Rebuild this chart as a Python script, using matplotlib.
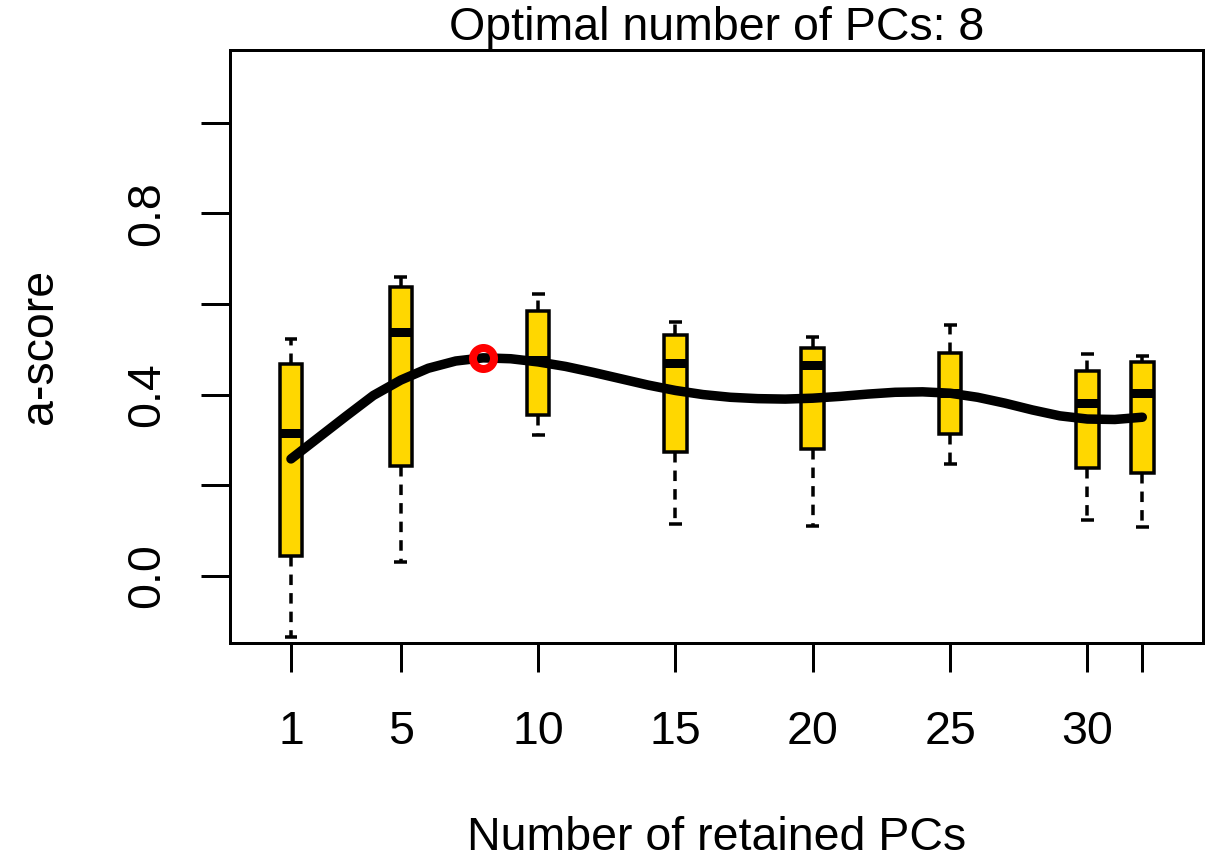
import matplotlib
matplotlib.use("Agg")
import matplotlib.pyplot as plt

plt.rcParams['font.family'] = ['Liberation Sans', 'DejaVu Sans']

# Number of retained PCs tested
n_pcs = [1, 5, 10, 15, 20, 25, 30, 32]

# a-score summaries for each tested number of PCs
whisker_low = [-0.134, 0.030, 0.311, 0.114, 0.110, 0.246, 0.124, 0.107]
q1 = [0.043, 0.243, 0.354, 0.274, 0.280, 0.313, 0.238, 0.228]
median = [0.315, 0.538, 0.476, 0.469, 0.465, 0.403, 0.382, 0.404]
q3 = [0.467, 0.638, 0.585, 0.532, 0.502, 0.491, 0.451, 0.471]
whisker_high = [0.522, 0.660, 0.621, 0.560, 0.527, 0.553, 0.490, 0.484]

# Smoothed mean a-score curve, evaluated at 1..32 PCs
curve_x = list(range(1, 33))
curve_y = [0.258, 0.305, 0.352, 0.398, 0.432, 0.458, 0.474, 0.481,
           0.479, 0.472, 0.462, 0.449, 0.435, 0.421, 0.409, 0.400,
           0.394, 0.391, 0.390, 0.392, 0.396, 0.401, 0.405, 0.406,
           0.403, 0.394, 0.381, 0.366, 0.353, 0.346, 0.345, 0.350]

best_n = 8
best_score = 0.481

x_ticks = [1, 5, 10, 15, 20, 25, 30, 32]
x_tick_labels = ["1", "5", "10", "15", "20", "25", "30", ""]
y_ticks = [0.0, 0.2, 0.4, 0.6, 0.8, 1.0]
y_tick_labels = ["0.0", "", "0.4", "", "0.8", ""]

W, H = 1219, 858
left, right, top, bottom = 230, 1203, 50, 643
fig = plt.figure(figsize=(W / 100, H / 100), dpi=100)
ax = fig.add_axes([left / W, 1 - bottom / H, (right - left) / W, (bottom - top) / H])

px = 0.72  # one pixel in points
fs = 33.5

stats = []
for i in range(len(n_pcs)):
    stats.append(dict(whislo=whisker_low[i], q1=q1[i], med=median[i],
                      q3=q3[i], whishi=whisker_high[i], fliers=[]))

ax.bxp(stats, positions=n_pcs, widths=0.82, capwidths=0.47,
       patch_artist=True, showfliers=False, manage_ticks=False,
       boxprops=dict(facecolor="#FFD700", edgecolor="black", linewidth=3.5 * px),
       medianprops=dict(color="black", linewidth=9 * px, solid_capstyle="butt"),
       whiskerprops=dict(color="black", linewidth=3.5 * px,
                         linestyle=(0, (3.0, 2.3))),
       capprops=dict(color="black", linewidth=3.5 * px, solid_capstyle="butt"))

ax.plot(curve_x, curve_y, color="black", linewidth=9.5 * px,
        solid_capstyle="round", solid_joinstyle="round", zorder=5)
ax.plot([best_n], [best_score], marker="o", markersize=21 * px,
        markerfacecolor="none", markeredgecolor="#FF0000",
        markeredgewidth=8 * px, linestyle="none", zorder=6)

ax.set_xlim(-1.22, 34.21)
ax.set_ylim(-0.148, 1.160)

ax.set_xticks(x_ticks)
ax.set_xticklabels(x_tick_labels)
ax.set_yticks(y_ticks)
ax.set_yticklabels(y_tick_labels, rotation=90, va="center")

for s in ax.spines.values():
    s.set_linewidth(3 * px)

ax.tick_params(axis="both", direction="out", length=29 * px, width=3 * px,
               labelsize=fs)
ax.tick_params(axis="x", pad=27)
ax.tick_params(axis="y", pad=23)

fig.text(0.5 * (left + right) / W, 1 - 28 / H, "Optimal number of PCs: 8",
         ha="center", va="center", fontsize=fs)
fig.text(0.5 * (left + right) / W, 1 - 838 / H, "Number of retained PCs",
         ha="center", va="center", fontsize=fs)
fig.text(40 / W, 1 - 0.5 * (top + bottom) / H, "a-score", rotation=90,
         ha="center", va="center", fontsize=fs)

fig.savefig("out.png", dpi=100, facecolor="white")
